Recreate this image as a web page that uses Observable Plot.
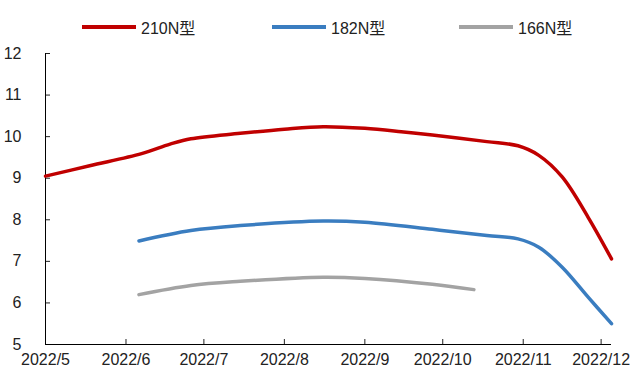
<!DOCTYPE html>
<html>
<head>
<meta charset="utf-8">
<script src="https://cdn.jsdelivr.net/npm/d3@7"></script>
<script src="https://cdn.jsdelivr.net/npm/@observablehq/plot@0.6"></script>
<style>
  html, body { margin: 0; padding: 0; background: #fff; }
  body { width: 630px; height: 374px; overflow: hidden; font-family: "Liberation Sans", "Noto Sans CJK SC", sans-serif; }
  #legend { height: 40px; position: relative; font-size: 16px; color: #222; }
  .item { position: absolute; top: 15px; display: flex; align-items: center; }
  .sw { width: 54px; height: 4px; margin-right: 5px; }
</style>
</head>
<body>
<div id="legend"></div>
<div id="chart"></div>
<script>
// Series names and colours
const seriesNames = ["210N型", "182N型", "166N型"];
const seriesColors = ["#C00000", "#3A7DC0", "#A3A3A3"];

// 210N型
const dates210 = ["2022-05-01","2022-05-18","2022-06-07","2022-06-18","2022-06-26","2022-07-15","2022-08-01","2022-08-16","2022-09-01","2022-09-15","2022-09-27","2022-10-18","2022-10-30","2022-11-07","2022-11-16","2022-11-26","2022-12-05"];
const values210 = [9.05, 9.30, 9.59, 9.82, 9.95, 10.08, 10.18, 10.24, 10.20, 10.12, 10.04, 9.88, 9.78, 9.55, 9.03, 8.06, 7.06];

// 182N型
const dates182 = ["2022-06-06","2022-06-26","2022-07-15","2022-08-16","2022-09-01","2022-09-27","2022-10-18","2022-10-30","2022-11-07","2022-11-16","2022-11-26","2022-12-05"];
const values182 = [7.49, 7.74, 7.86, 7.97, 7.94, 7.77, 7.62, 7.54, 7.34, 6.86, 6.14, 5.50];

// 166N型
const dates166 = ["2022-06-06","2022-06-26","2022-07-15","2022-08-16","2022-09-01","2022-09-27","2022-10-13"];
const values166 = [6.20, 6.42, 6.52, 6.62, 6.59, 6.45, 6.32];

// Axis ticks
const xTickDates = ["2022-05-01","2022-06-01","2022-07-01","2022-08-01","2022-09-01","2022-10-01","2022-11-01","2022-12-01"];
const yTicks = [5, 6, 7, 8, 9, 10, 11, 12];
const xDomain = ["2022-05-01", "2022-12-05"];

const parse = s => new Date(s + "T00:00:00Z");
const data = [];
[[dates210, values210], [dates182, values182], [dates166, values166]].forEach(([ds, vs], i) => {
  ds.forEach((d, j) => data.push({series: seriesNames[i], date: parse(d), value: vs[j]}));
});

// Legend
const legend = document.getElementById("legend");
const legendX = [82, 272, 459];
seriesNames.forEach((n, i) => {
  const it = document.createElement("div");
  it.className = "item";
  it.style.left = legendX[i] + "px";
  it.innerHTML = `<span class="sw" style="background:${seriesColors[i]}"></span><span>${n}</span>`;
  legend.appendChild(it);
});

const fmt = d => `${d.getUTCFullYear()}/${d.getUTCMonth() + 1}`;

const chart = Plot.plot({
  width: 630,
  height: 334,
  marginLeft: 45,
  marginRight: 19,
  marginTop: 13,
  marginBottom: 30,
  style: {fontFamily: "'Liberation Sans', 'Noto Sans CJK SC', sans-serif", fontSize: "16px", color: "#222"},
  x: {type: "utc", domain: xDomain.map(parse)},
  y: {domain: [5, 12]},
  color: {domain: seriesNames, range: seriesColors},
  marks: [
    Plot.axisY({ticks: yTicks, tickSize: -5, tickPadding: 29, label: null, tickFormat: d => d}),
    Plot.axisX({ticks: xTickDates.map(parse), tickSize: -5, tickPadding: 14, label: null, tickFormat: fmt}),
    Plot.ruleX([parse(xDomain[0])], {stroke: "#000"}),
    Plot.ruleY([5], {stroke: "#000"}),
    Plot.line(data, {x: "date", y: "value", z: "series", stroke: "series", strokeWidth: 3.5, curve: "catmull-rom"})
  ]
});
document.getElementById("chart").appendChild(chart);
</script>
</body>
</html>
